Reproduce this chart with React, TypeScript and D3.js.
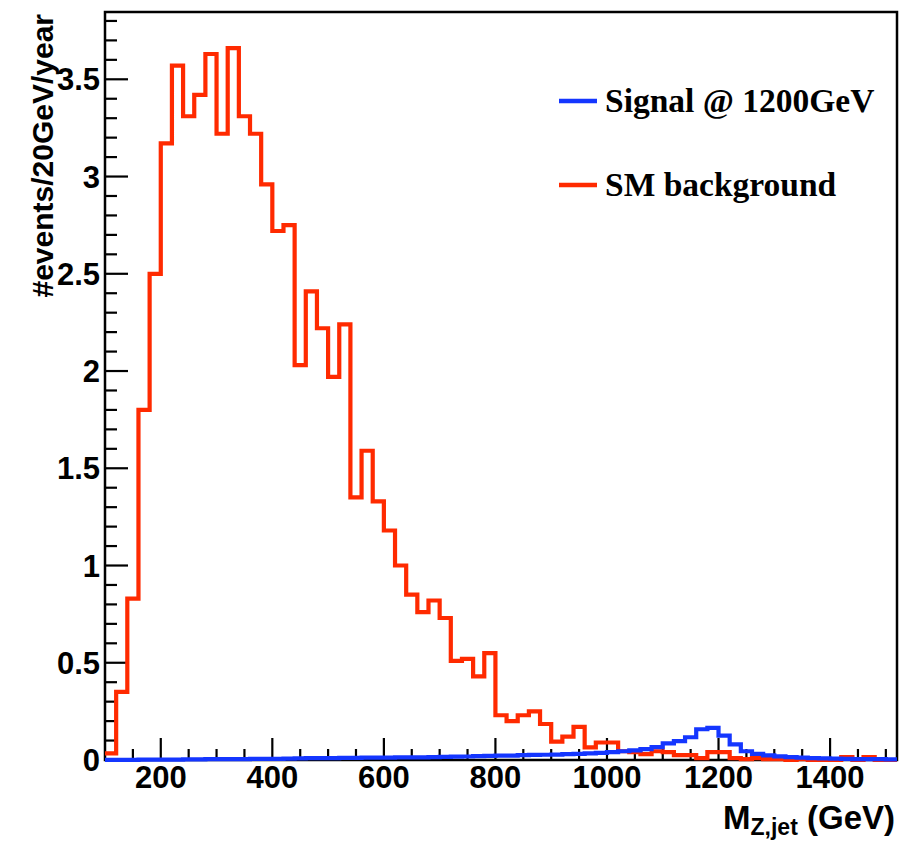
import React, { useRef, useEffect } from "react";
import { select, scaleLinear, line, curveStepAfter, range } from "d3";

// bin lower edges: 100 .. 1500 GeV, 20 GeV wide
const binEdges = range(100, 1520, 20);
const xMax = 1520;

const background = [
  0.034, 0.35, 0.83, 1.8, 2.5, 3.17, 3.57, 3.31, 3.42, 3.63,
  3.22, 3.66, 3.31, 3.22, 2.96, 2.72, 2.75, 2.03, 2.41, 2.22,
  1.97, 2.24, 1.35, 1.59, 1.33, 1.18, 1.0, 0.85, 0.76, 0.82,
  0.73, 0.51, 0.52, 0.43, 0.55, 0.23, 0.2, 0.23, 0.25, 0.185,
  0.094, 0.12, 0.17, 0.065, 0.09, 0.09, 0.045, 0.04, 0.03, 0.045,
  0.04, 0.025, 0.025, 0.01, 0.04, 0.04, 0.01, 0.005, 0.01, 0.005,
  0.005, 0.0, 0.005, 0.0, 0.0, 0.0, 0.015, 0.0, 0.015, 0.0,
  0.0,
];

const signal = [
  0.001, 0.001, 0.001, 0.002, 0.002, 0.002, 0.002, 0.003, 0.003, 0.005,
  0.005, 0.005, 0.005, 0.006, 0.006, 0.006, 0.007, 0.008, 0.01, 0.01,
  0.01, 0.011, 0.011, 0.012, 0.012, 0.012, 0.013, 0.013, 0.014, 0.015,
  0.016, 0.017, 0.018, 0.02, 0.021, 0.022, 0.023, 0.025, 0.026, 0.027,
  0.028, 0.03, 0.032, 0.034, 0.037, 0.04, 0.045, 0.05, 0.056, 0.066,
  0.085, 0.097, 0.117, 0.158, 0.165, 0.125, 0.08, 0.045, 0.032, 0.024,
  0.019, 0.015, 0.012, 0.01, 0.008, 0.007, 0.006, 0.005, 0.004, 0.004,
  0.003,
];

const xMajorTicks = [200, 400, 600, 800, 1000, 1200, 1400];
const xMinorTicks = range(150, 1520, 50).filter((v) => v % 200 !== 0);
const yMajorTicks = [0, 0.5, 1, 1.5, 2, 2.5, 3, 3.5];
const yMinorTicks = range(1, 39).map((v) => v / 10).filter((v) => Math.round(v * 10) % 5 !== 0);

const legendItems = [
  { label: "Signal @ 1200GeV", color: "#1436ff" },
  { label: "SM background", color: "#ff2a00" },
];

const SANS = "'Liberation Sans', Arial, Helvetica, sans-serif";
const SERIF = "'Liberation Serif', 'Times New Roman', serif";

function HistogramChart() {
  const svgRef = useRef(null);

  useEffect(() => {
    const svg = select(svgRef.current);
    svg.selectAll("*").remove();

    const left = 105, right = 897, top = 12, bottom = 760;

    const x = scaleLinear().domain([100, xMax]).range([left, right]);
    const y = scaleLinear().domain([0, 3.846]).range([bottom, top]);

    // frame
    svg
      .append("rect")
      .attr("x", left)
      .attr("y", top)
      .attr("width", right - left)
      .attr("height", bottom - top)
      .attr("fill", "none")
      .attr("stroke", "#000")
      .attr("stroke-width", 2.5);

    // x ticks
    svg
      .selectAll(".xmaj")
      .data(xMajorTicks)
      .join("line")
      .attr("x1", (d) => x(d))
      .attr("x2", (d) => x(d))
      .attr("y1", bottom)
      .attr("y2", bottom - 22)
      .attr("stroke", "#000")
      .attr("stroke-width", 2.2);
    svg
      .selectAll(".xmin")
      .data(xMinorTicks)
      .join("line")
      .attr("x1", (d) => x(d))
      .attr("x2", (d) => x(d))
      .attr("y1", bottom)
      .attr("y2", bottom - 11)
      .attr("stroke", "#000")
      .attr("stroke-width", 2.2);

    // y ticks
    svg
      .selectAll(".ymaj")
      .data(yMajorTicks)
      .join("line")
      .attr("x1", left)
      .attr("x2", left + 23)
      .attr("y1", (d) => y(d))
      .attr("y2", (d) => y(d))
      .attr("stroke", "#000")
      .attr("stroke-width", 2.2);
    svg
      .selectAll(".ymin")
      .data(yMinorTicks)
      .join("line")
      .attr("x1", left)
      .attr("x2", left + 12)
      .attr("y1", (d) => y(d))
      .attr("y2", (d) => y(d))
      .attr("stroke", "#000")
      .attr("stroke-width", 2.2);

    // tick labels
    svg
      .selectAll(".xlab")
      .data(xMajorTicks)
      .join("text")
      .attr("x", (d) => x(d))
      .attr("y", 788)
      .attr("text-anchor", "middle")
      .attr("font-family", SANS)
      .attr("font-weight", "bold")
      .attr("font-size", 31)
      .text((d) => d);
    svg
      .selectAll(".ylab")
      .data(yMajorTicks)
      .join("text")
      .attr("x", 100)
      .attr("y", (d) => y(d) + 11)
      .attr("text-anchor", "end")
      .attr("font-family", SANS)
      .attr("font-weight", "bold")
      .attr("font-size", 31)
      .text((d) => d);

    // histograms
    const stepLine = line()
      .x((d) => x(d[0]))
      .y((d) => y(d[1]))
      .curve(curveStepAfter);

    const toPoints = (vals) => {
      const pts = binEdges.map((e, i) => [e, vals[i]]);
      pts.push([xMax, vals[vals.length - 1]]);
      return pts;
    };

    svg
      .append("path")
      .attr("d", stepLine(toPoints(background)))
      .attr("fill", "none")
      .attr("stroke", legendItems[1].color)
      .attr("stroke-width", 4.2)
      .attr("stroke-linejoin", "miter");

    svg
      .append("path")
      .attr("d", stepLine(toPoints(signal)))
      .attr("fill", "none")
      .attr("stroke", legendItems[0].color)
      .attr("stroke-width", 4.2)
      .attr("stroke-linejoin", "miter");

    // legend
    const lg = svg
      .selectAll(".legend")
      .data(legendItems)
      .join("g")
      .attr("transform", (d, i) => `translate(0, ${101 + i * 84})`);
    lg.append("line")
      .attr("x1", 559)
      .attr("x2", 597)
      .attr("y1", 0)
      .attr("y2", 0)
      .attr("stroke", (d) => d.color)
      .attr("stroke-width", 4.5);
    lg.append("text")
      .attr("x", 605)
      .attr("y", 10.5)
      .attr("font-family", SERIF)
      .attr("font-weight", "bold")
      .attr("font-size", 33.5)
      .text((d) => d.label);

    // axis titles
    svg
      .append("text")
      .attr("transform", "translate(53, 14) rotate(-90)")
      .attr("text-anchor", "end")
      .attr("font-family", SANS)
      .attr("font-weight", "bold")
      .attr("font-size", 30)
      .text("#events/20GeV/year");

    const xt = svg
      .append("text")
      .attr("x", 895)
      .attr("y", 829)
      .attr("text-anchor", "end")
      .attr("font-family", SANS)
      .attr("font-weight", "bold")
      .attr("font-size", 33);
    xt.append("tspan").text("M");
    xt.append("tspan").attr("font-size", 23).attr("dy", 6).text("Z,jet");
    xt.append("tspan").attr("dy", -6).text(" (GeV)");
  }, []);

  return (
    <svg
      ref={svgRef}
      width={900}
      height={841}
      style={{ position: "absolute", left: 0, top: 0, background: "#fff" }}
    ></svg>
  );
}

export default function App() {
  return <HistogramChart />;
}
